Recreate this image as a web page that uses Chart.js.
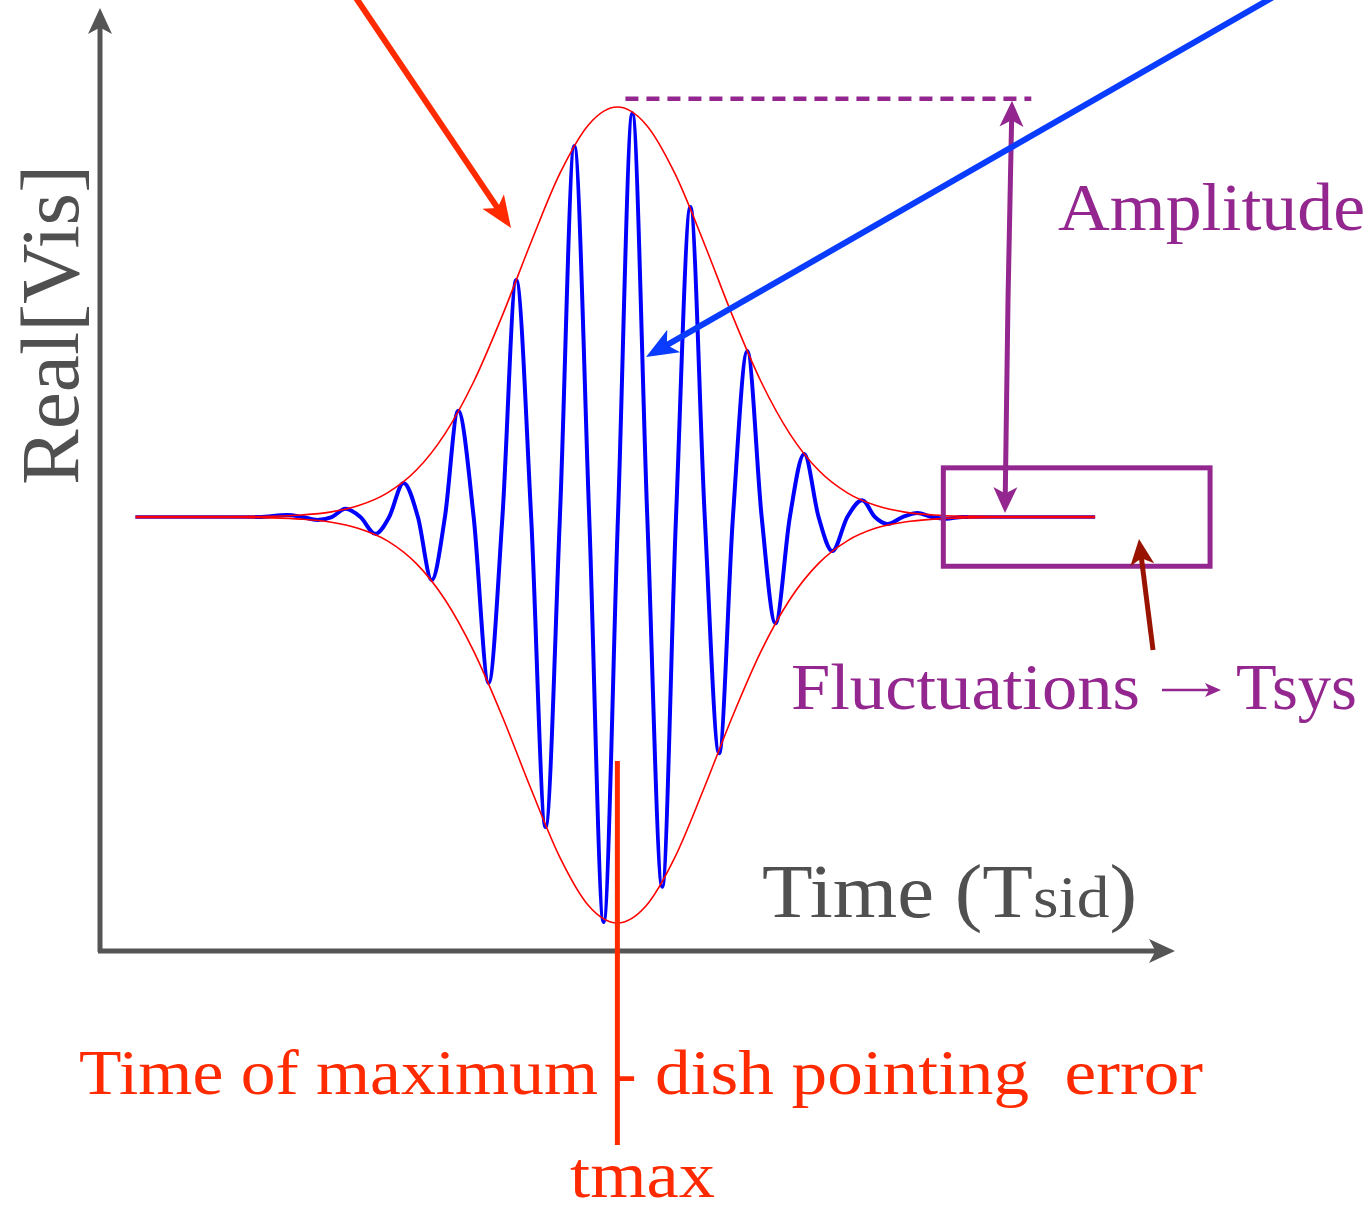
<!DOCTYPE html>
<html>
<head>
<meta charset="utf-8">
<script src="https://cdn.jsdelivr.net/npm/chart.js@4.4.1/dist/chart.umd.min.js"></script>
<style>
  html, body { margin: 0; padding: 0; background: #fff; }
  canvas { display: block; }
</style>
</head>
<body>
<canvas id="fringe" width="1367" height="1205"></canvas>
<script>
// time in fringe periods, t = 0 at the time of maximum
const waveT = [-8.38, -6.7, -6.24, -5.74, -5.48, -5.22, -4.97, -4.73, -4.47, -4.21, -3.97, -3.72, -3.47, -3.23, -3.0,
  -2.77, -2.5, -2.24, -2.0, -1.76, -1.5, -1.25, -1.0, -0.75, -0.49, -0.24, 0.01, 0.26, 0.52, 0.78, 1.02, 1.27,
  1.52, 1.77, 2.01, 2.26, 2.51, 2.75, 3.0, 3.25, 3.5, 3.74, 4.0, 4.26, 4.48, 4.7, 4.96, 5.22, 5.47, 5.72, 6.0, 6.7, 8.31];
const waveV = [0, 0, 0, 0.005, 0, -0.007, 0, 0.02, 0, -0.041, 0, 0.083, 0, -0.154, 0,
  0.259, 0, -0.405, 0, 0.578, 0, -0.756, 0, 0.905, 0, -0.988, 0, 0.985, 0, -0.902, 0, 0.756,
  0, -0.576, 0, 0.405, 0, -0.259, 0, 0.154, 0, -0.083, 0, 0.041, 0, -0.017, 0, 0.01, 0, -0.004, 0, 0, 0];

// gaussian beam envelope
const envT = [-8.38, -7, -6, -5.5, -5, -4.5, -4, -3.5, -3, -2.5, -2, -1.5, -1, -0.5, 0,
  0.5, 1, 1.5, 2, 2.5, 3, 3.5, 4, 4.5, 5, 5.5, 6, 7, 8.31];
const envUpper = [0, 0, 0.002, 0.005, 0.012, 0.028, 0.059, 0.114, 0.203, 0.33, 0.492, 0.671, 0.838, 0.957, 1.0,
  0.957, 0.838, 0.671, 0.492, 0.33, 0.203, 0.114, 0.059, 0.028, 0.012, 0.005, 0.002, 0, 0];
const envLower = [0, 0, -0.002, -0.005, -0.012, -0.028, -0.058, -0.113, -0.201, -0.327, -0.487, -0.664, -0.83, -0.948, -0.99,
  -0.948, -0.83, -0.664, -0.487, -0.327, -0.201, -0.113, -0.058, -0.027, -0.012, -0.005, -0.002, 0, 0];

// flat baseline far from the fringe (left part, right part)
const tailT = [-8.38, -6.3, null, 6.1, 8.31];
const tailV = [0, 0, null, 0, 0];

const tMax = 0;
const amplitude = 1.02;
const noiseBox = [5.67, 10.31, 0.12, -0.12]; // t from/to, v top/bottom

const FONT = '"Liberation Serif", "Times New Roman", serif';
const RED = "#ff2a00";
const PURPLE = "#93278f";
const GRAY = "#555555";

const pts = (xs, ys) => xs.map((x, i) => ({ x: x === null ? 0 : x, y: ys[i] }));

function arrow(ctx, x1, y1, x2, y2, color, width, len, half) {
  const a = Math.atan2(y2 - y1, x2 - x1);
  const c = Math.cos(a), s = Math.sin(a);
  ctx.save();
  ctx.strokeStyle = color;
  ctx.fillStyle = color;
  ctx.lineWidth = width;
  ctx.beginPath();
  ctx.moveTo(x1, y1);
  ctx.lineTo(x2 - c * len * 0.7, y2 - s * len * 0.7);
  ctx.stroke();
  ctx.beginPath();
  ctx.moveTo(x2, y2);
  ctx.lineTo(x2 - c * len - s * half, y2 - s * len + c * half);
  ctx.lineTo(x2 - c * len * 0.75, y2 - s * len * 0.75);
  ctx.lineTo(x2 - c * len + s * half, y2 - s * len - c * half);
  ctx.closePath();
  ctx.fill();
  ctx.restore();
}

// draw text stretched to the width it has in the figure
function label(ctx, parts, left, base, width, color) {
  ctx.save();
  ctx.fillStyle = color;
  ctx.textBaseline = "alphabetic";
  let total = 0;
  parts.forEach((p) => {
    ctx.font = p[1] + "px " + FONT;
    total += ctx.measureText(p[0]).width;
  });
  ctx.translate(left, base);
  ctx.scale(width / total, 1);
  let x = 0;
  parts.forEach((p) => {
    ctx.font = p[1] + "px " + FONT;
    ctx.fillText(p[0], x, 0);
    x += ctx.measureText(p[0]).width;
  });
  ctx.restore();
}

const decorations = {
  id: "decorations",
  afterDatasetsDraw(chart) {
    const ctx = chart.ctx;
    const xs = chart.scales.x, ys = chart.scales.y;
    const area = chart.chartArea;

    // axes with arrow heads
    arrow(ctx, area.left, area.bottom + 2, area.left, 8, GRAY, 5, 26, 12);
    arrow(ctx, area.left - 2, area.bottom + 1, 1175, area.bottom + 1, GRAY, 5, 26, 12);

    // amplitude marker
    const yPeak = ys.getPixelForValue(amplitude);
    const yBase = ys.getPixelForValue(0);
    ctx.save();
    ctx.strokeStyle = PURPLE;
    ctx.lineWidth = 4.5;
    ctx.setLineDash([13, 8]);
    ctx.beginPath();
    ctx.moveTo(xs.getPixelForValue(0.14), yPeak);
    ctx.lineTo(xs.getPixelForValue(7.2), yPeak);
    ctx.stroke();
    ctx.restore();
    arrow(ctx, 1008, 300, 1012, yPeak + 2, PURPLE, 5, 26, 12);
    arrow(ctx, 1008, 300, 1005, yBase - 4, PURPLE, 5, 26, 12);
    label(ctx, [["Amplitude", 68]], 1058, 230, 307, PURPLE);

    // noise box
    const bx1 = xs.getPixelForValue(noiseBox[0]), bx2 = xs.getPixelForValue(noiseBox[1]);
    const by1 = ys.getPixelForValue(noiseBox[2]), by2 = ys.getPixelForValue(noiseBox[3]);
    ctx.save();
    ctx.strokeStyle = PURPLE;
    ctx.lineWidth = 5;
    ctx.strokeRect(bx1, by1, bx2 - bx1, by2 - by1);
    ctx.restore();
    arrow(ctx, 1153, 650, 1139, 539, "#991400", 5, 26, 12);
    label(ctx, [["Fluctuations", 66]], 791, 709, 349, PURPLE);
    arrow(ctx, 1162, 690, 1221, 690, PURPLE, 2.5, 16, 7);
    label(ctx, [["Tsys", 66]], 1236, 709, 121, PURPLE);

    // pointer arrows from the top
    arrow(ctx, 352, -8, 511, 228, RED, 6, 32, 13);
    arrow(ctx, 1275, -4, 646, 357, "#0a3cff", 6, 32, 13);

    // axis titles
    label(ctx, [["Time (T", 76], ["sid", 60], [")", 76]], 762, 917, 375, "#505050");
    ctx.save();
    ctx.translate(78, 485);
    ctx.rotate(-Math.PI / 2);
    label(ctx, [["Real[Vis]", 83]], 0, 0, 320, "#505050");
    ctx.restore();

    // time of maximum
    const xt = xs.getPixelForValue(tMax);
    ctx.save();
    ctx.strokeStyle = RED;
    ctx.lineWidth = 5;
    ctx.beginPath();
    ctx.moveTo(xt, 761);
    ctx.lineTo(xt, 1145);
    ctx.stroke();
    ctx.restore();
    label(ctx, [["Time of maximum", 63]], 79, 1094, 519, RED);
    label(ctx, [["-", 63]], xt - 3, 1094, 22, RED);
    label(ctx, [["dish pointing  error", 63]], 655, 1094, 548, RED);
    label(ctx, [["tmax", 66]], 570, 1197, 145, RED);
  },
};

new Chart(document.getElementById("fringe"), {
  type: "line",
  data: {
    datasets: [
      {
        label: "Real[Vis]",
        data: pts(waveT, waveV),
        borderColor: "#0000ff",
        borderWidth: 4,
        cubicInterpolationMode: "monotone",
        pointRadius: 0,
        order: 3,
      },
      {
        label: "baseline",
        data: pts(tailT, tailV),
        borderColor: "#8a2a9c",
        borderWidth: 4,
        spanGaps: false,
        pointRadius: 0,
        order: 2,
      },
      {
        label: "envelope",
        data: pts(envT, envUpper),
        borderColor: "#ff0000",
        borderWidth: 1.6,
        cubicInterpolationMode: "monotone",
        pointRadius: 0,
        order: 1,
      },
      {
        label: "envelope low",
        data: pts(envT, envLower),
        borderColor: "#ff0000",
        borderWidth: 1.6,
        cubicInterpolationMode: "monotone",
        pointRadius: 0,
        order: 1,
      },
    ],
  },
  options: {
    responsive: false,
    animation: false,
    devicePixelRatio: 1,
    layout: { padding: { left: 100, right: 192, top: 10, bottom: 255 } },
    scales: {
      x: { type: "linear", min: -9, max: 9.7, display: false },
      y: { type: "linear", min: -1.056, max: 1.2367, display: false },
    },
    plugins: {
      legend: { display: false },
      tooltip: { enabled: false },
    },
  },
  plugins: [decorations],
});
</script>
</body>
</html>
